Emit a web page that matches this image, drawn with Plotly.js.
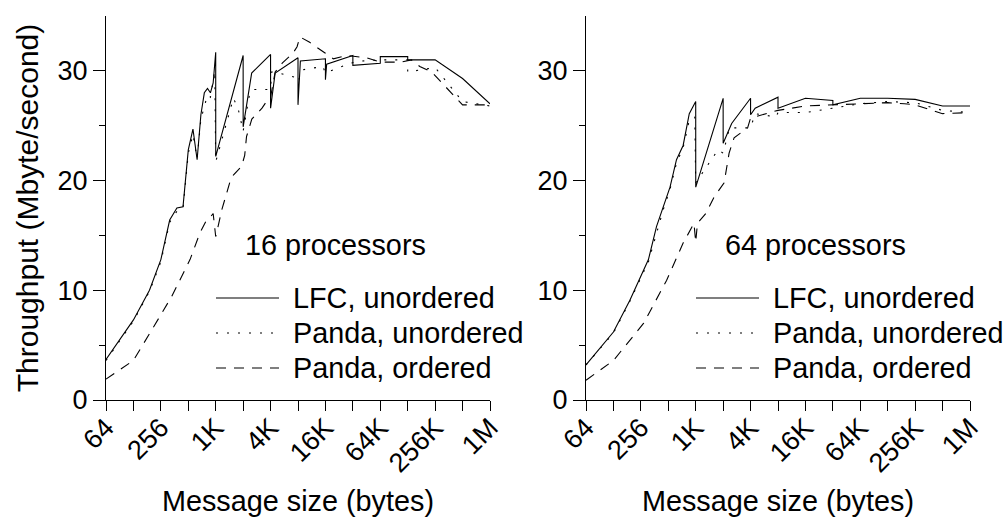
<!DOCTYPE html>
<html>
<head>
<meta charset="utf-8">
<script src="https://cdn.plot.ly/plotly-3.0.1.min.js"></script>
<style>html,body{margin:0;padding:0;background:#fff;}#chart{width:1006px;height:519px;}</style>
</head>
<body>
<div id="chart"></div>
<script>
// ---- data (message size in bytes, throughput in Mbyte/second) ----
const tickSizes = [64,128,256,512,1024,2048,4096,8192,16384,32768,65536,131072,262144,524288,1048576];
const tickLabels = ["64","","256","","1K","","4K","","16K","","64K","","256K","","1M"];
const yTicks = [0,10,20,30];
const yMinorTicks = [5,15,25];

// 16 processors
const lfc16Size = [64,128,192,256,320,384,448,512,576,640,704,768,832,896,960,1024,1025,2048,2049,2540,4096,4097,4600,8192,8193,8700,16384,16385,16900,32768,32769,65536,65537,131072,131073,262144,524288,1048576];
const lfc16Tput = [3.7,7.3,10.0,12.8,16.4,17.5,17.6,22.8,24.7,21.9,26.0,28.0,28.4,28.0,28.9,31.7,22.2,31.4,24.9,29.8,31.5,26.6,29.8,31.2,26.9,30.9,31.1,29.2,30.6,31.4,30.5,30.7,31.3,31.3,31.0,31.0,29.3,27.0];

const pu16Size = [64,128,192,256,320,384,448,512,576,640,704,768,832,896,960,1000,1024,1600,1800,2048,2400,2600,4096,4200,4600,7680,8192,9216,15360,16384,30720,40960,65536,131072,131073,262144,524288,1048576];
const pu16Tput = [3.6,7.2,9.9,12.6,16.2,17.2,17.4,22.5,24.2,22.0,25.6,26.8,27.8,27.6,29.0,30.0,21.7,27.5,26.6,24.5,27.8,28.3,28.3,29.9,29.9,29.4,29.0,30.1,30.4,29.8,30.7,30.9,31.0,31.0,29.9,30.3,27.2,26.8];

const pd16Size = [64,128,194,335,535,685,800,880,960,1024,1100,1190,1470,1600,1970,2130,2230,2440,2550,3300,3690,4096,4600,5500,7200,8000,8600,11000,13600,16384,20000,28000,46000,65536,110000,144000,178000,240000,524288,1048576];
const pd16Tput = [1.9,3.6,6.1,9.4,12.8,15.2,16.3,16.6,17.0,14.9,16.0,17.3,19.9,20.5,21.3,22.3,24.0,25.2,25.6,26.6,27.2,27.6,29.9,30.7,31.6,32.2,33.1,32.6,32.1,31.6,31.1,31.4,31.2,30.8,30.8,31.0,30.4,29.9,26.9,26.9];

// 64 processors
const lfc64Size = [64,128,194,310,380,453,535,630,745,870,1024,1025,2048,2049,2540,4096,4097,4600,8192,8193,16384,32768,32769,65536,131072,262144,524288,1048576];
const lfc64Tput = [3.2,6.2,9.1,12.8,15.8,17.6,19.4,21.9,23.2,26.1,27.2,19.4,27.5,23.4,25.2,27.5,26.0,26.6,27.6,26.6,27.5,27.3,26.9,27.5,27.5,27.4,26.8,26.8];

const pu64Size = [64,128,194,310,453,535,630,745,870,1000,1024,1800,2048,2400,4096,4600,7800,8192,16384,32768,65536,131072,262144,524288,1048576];
const pu64Tput = [3.2,6.1,9.0,12.6,17.4,19.2,21.6,23.0,25.5,25.8,19.8,22.8,22.5,24.8,24.8,26.1,25.8,26.2,26.2,26.6,27.0,27.2,27.1,26.4,26.2];

const pd64Size = [64,128,275,490,745,870,980,1024,1070,1320,1630,2100,2380,2700,3800,4096,8192,16384,32768,65536,131072,200000,262144,524288,1048576];
const pd64Tput = [1.8,3.6,7.0,10.9,14.3,15.3,16.1,14.4,16.1,17.0,18.5,19.8,22.5,23.9,24.8,25.7,26.4,26.8,26.9,27.0,27.1,27.0,26.9,26.1,26.2];

const seriesNames = ["LFC, unordered","Panda, unordered","Panda, ordered"];
const panelLabels = ["16 processors","64 processors"];

// ---- styling ----
const FONT = "Liberation Sans, Arial, Helvetica, sans-serif";
const TXT = 28.8;
const dashes = ["solid","2px,9px","10px,8px"];
const W = 1006, H = 519;

function tr(x, y, i, xa, ya) {
  return {
    x: x, y: y, type: "scatter", mode: "lines",
    name: seriesNames[i], xaxis: xa, yaxis: ya, showlegend: false,
    line: {color: "#000", width: 1.1, dash: dashes[i]},
    hoverinfo: "skip"
  };
}

const data = [
  tr(lfc16Size, lfc16Tput, 0, "x", "y"),
  tr(pu16Size, pu16Tput, 1, "x", "y"),
  tr(pd16Size, pd16Tput, 2, "x", "y"),
  tr(lfc64Size, lfc64Tput, 0, "x2", "y2"),
  tr(pu64Size, pu64Tput, 1, "x2", "y2"),
  tr(pd64Size, pd64Tput, 2, "x2", "y2")
];

function xax(dom, anchor) {
  return {
    domain: dom, anchor: anchor, type: "log",
    range: [Math.log10(64), Math.log10(1048576)],
    tickmode: "array", tickvals: tickSizes, ticktext: tickLabels,
    tickangle: -45, ticks: "outside", ticklen: 10, tickwidth: 1, tickcolor: "#000",
    ticklabelstandoff: -10,
    showline: true, linecolor: "#000", linewidth: 1,
    showgrid: false, zeroline: false,
    tickfont: {family: FONT, size: 27, color: "#000"},
    title: {text: "Message size (bytes)", font: {family: FONT, size: TXT, color: "#000"}, standoff: 13}
  };
}
function yax(dom, anchor, withTitle) {
  const a = {
    domain: dom, anchor: anchor, range: [0, 35],
    tickmode: "array", tickvals: yTicks,
    ticks: "outside", ticklen: 12, tickwidth: 1, tickcolor: "#000",
    minor: {tickmode: "array", tickvals: yMinorTicks, ticks: "outside", ticklen: 6, tickcolor: "#000", tickwidth: 1, showgrid: false},
    showline: true, linecolor: "#000", linewidth: 1,
    showgrid: false, zeroline: false,
    tickfont: {family: FONT, size: 27, color: "#000"}
  };
  if (withTitle) a.title = {text: "Throughput (Mbyte/second)", font: {family: FONT, size: 30, color: "#000"}, standoff: 10};
  return a;
}

// legend drawn per panel: sample line + label text (paper coordinates)
const legendPanels = [{x0: 216, x1: 279, tx: 291}, {x0: 696, x1: 759, tx: 771}];
const legendRowsY = [298, 333, 368];
const shapes = [];
const annotations = [];
legendPanels.forEach(function (p, pi) {
  seriesNames.forEach(function (nm, i) {
    const yy = (H - legendRowsY[i]) / H;
    shapes.push({type: "line", xref: "paper", yref: "paper", x0: p.x0 / W, x1: p.x1 / W, y0: yy, y1: yy,
      line: {color: "#000", width: 1.1, dash: dashes[i]}});
    annotations.push({text: nm, xref: "paper", yref: "paper", x: p.tx / W, y: yy, showarrow: false,
      xanchor: "left", yanchor: "middle", font: {family: FONT, size: TXT, color: "#000"}});
  });
  annotations.push({text: panelLabels[pi], xref: "paper", yref: "paper", x: (pi === 0 ? 335.5 : 815.5) / W, y: (H - 245) / H,
    showarrow: false, xanchor: "center", yanchor: "middle", font: {family: FONT, size: TXT, color: "#000"}});
});

const layout = {
  width: W, height: H,
  margin: {l: 0, r: 0, t: 0, b: 0},
  paper_bgcolor: "#fff", plot_bgcolor: "#fff",
  font: {family: FONT, color: "#000"},
  showlegend: false,
  xaxis: xax([106/W, 490/W], "y"),
  yaxis: yax([(H-400)/H, (H-16)/H], "x", true),
  xaxis2: xax([586/W, 970/W], "y2"),
  yaxis2: yax([(H-400)/H, (H-16)/H], "x2", false),
  shapes: shapes,
  annotations: annotations
};

Plotly.newPlot("chart", data, layout, {staticPlot: true, displayModeBar: false});
</script>
</body>
</html>
